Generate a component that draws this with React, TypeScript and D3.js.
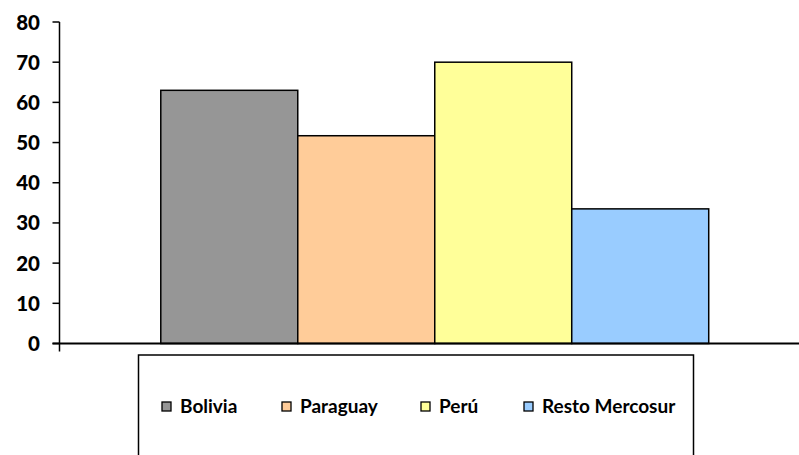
import * as d3 from 'd3'

const categories = ['Bolivia', 'Paraguay', 'Perú', 'Resto Mercosur']
const values = [63, 51.7, 70, 33.5]
const colors = ['#969696', '#FFCC99', '#FFFF99', '#99CCFF']
const yTicks = [0, 10, 20, 30, 40, 50, 60, 70, 80]

const W = 799
const H = 455
const FONT = 'Lato, "Open Sans", sans-serif'

export default function App() {
  const left = 59.5
  const right = 810
  const top = 22
  const bottom = 343.5

  const y = d3.scaleLinear().domain([0, 80]).range([bottom, top])
  // one category group, series side by side inside it
  const group = d3.scaleBand<string>().domain(['g']).range([left, right]).paddingInner(0.156).paddingOuter(0.156)
  const x = d3.scaleBand<string>().domain(categories).range([group('g')!, group('g')! + group.bandwidth()])

  // legend layout
  const legendX = [162, 282, 421, 524]

  return (
    <svg width={W} height={H} style={{ position: 'absolute', left: 0, top: 0, fontFamily: FONT }}>
      <rect width={W} height={H} fill="#fff" />

      {/* bars */}
      {categories.map((c, i) => (
        <rect
          key={c}
          x={x(c)}
          y={y(values[i])}
          width={x.bandwidth()}
          height={bottom - y(values[i])}
          fill={colors[i]}
          stroke="#000"
          strokeWidth={1.5}
        />
      ))}

      {/* y axis */}
      <line x1={left} x2={left} y1={top} y2={bottom + 8} stroke="#000" strokeWidth={1.5} />
      {yTicks.map(t => (
        <g key={t}>
          <line x1={left - 7} x2={left} y1={y(t)} y2={y(t)} stroke="#000" strokeWidth={1.5} />
          <text x={40} y={y(t) + 7.5} textAnchor="end" fontSize={20.5} fontWeight="900" fill="#000">
            {t}
          </text>
        </g>
      ))}

      {/* x axis */}
      <line x1={left - 7} x2={W} y1={bottom} y2={bottom} stroke="#000" strokeWidth={2} />

      {/* legend */}
      <rect x={138.5} y={355} width={555} height={120} fill="#fff" stroke="#000" strokeWidth={1.5} />
      {categories.map((c, i) => (
        <g key={c}>
          <rect x={legendX[i]} y={402} width={9} height={9} fill={colors[i]} stroke="#000" strokeWidth={1.3} />
          <text x={legendX[i] + 18} y={413} fontSize={19} fontWeight="bold" fill="#000">
            {c}
          </text>
        </g>
      ))}
    </svg>
  )
}
